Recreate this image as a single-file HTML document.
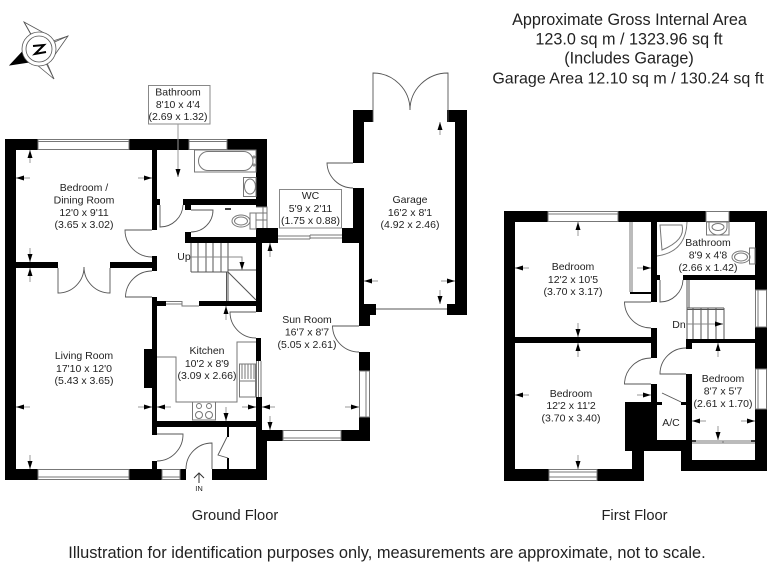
<!DOCTYPE html>
<html><head><meta charset="utf-8"><style>
html,body{margin:0;padding:0;background:#fff}
svg{display:block}
text{font-family:"Liberation Sans",sans-serif;fill:#222;text-anchor:middle}
.r text{font-size:10.5px}
.l{fill:none;stroke:#777;stroke-width:1}
.d{fill:none;stroke:#555;stroke-width:.9}
.a{stroke:#999;stroke-width:1;fill:none;marker-end:url(#m)}
</style></head><body>
<svg width="768" height="576" viewBox="0 0 768 576" xmlns="http://www.w3.org/2000/svg">
<defs><marker id="m" markerUnits="userSpaceOnUse" markerWidth="9" markerHeight="6" refX="8" refY="2.5" orient="auto"><path d="M0 0L8 2.5L0 5z" fill="#000"/></marker></defs>
<rect width="768" height="576" fill="#fff"/>

<!-- compass -->
<g fill="#fff" stroke="#555" stroke-width=".8">
<path d="M24 22L46 34L32 36zM68 36L54 56L53 41zM54 79L31 60L47 63z"/>
<path d="M24 22L39 49M68 36L39 49M54 79L39 49"/>
<path d="M10 65L24 50L39 49L30 62z" fill="#000" stroke="#000"/>
<circle cx="39" cy="49" r="17"/><circle cx="39" cy="49" r="13"/>
<path d="M33 46L44 45L35 54L46 52" fill="none" stroke="#000" stroke-width="2"/>
</g>

<!-- ground floor walls -->
<g fill="#000">
<rect x="5" y="139" width="11" height="341"/>
<rect x="5" y="139" width="33" height="11"/>
<rect x="129" y="139" width="60" height="11"/>
<rect x="227" y="139" width="40" height="11"/>
<rect x="256" y="139" width="11" height="68"/>
<rect x="152" y="150" width="5" height="80"/>
<rect x="157" y="199" width="3" height="6"/>
<rect x="152" y="256" width="5" height="15"/>
<rect x="16" y="262" width="42" height="6"/>
<rect x="110" y="262" width="42" height="6"/>
<rect x="183" y="199" width="74" height="6"/>
<rect x="185" y="205" width="6" height="5"/>
<rect x="185" y="232" width="6" height="10"/>
<rect x="185" y="237" width="77" height="6"/>
<rect x="256" y="228" width="22" height="15"/>
<rect x="256" y="243" width="6" height="69"/>
<rect x="152" y="297" width="5" height="138"/>
<rect x="157" y="301" width="9" height="5"/>
<rect x="199" y="301" width="57" height="5"/>
<rect x="144" y="349" width="8" height="39"/>
<rect x="256" y="338" width="5" height="23"/>
<rect x="256" y="397" width="6" height="44"/>
<rect x="157" y="421" width="99" height="6"/>
<rect x="256" y="430" width="27" height="11"/>
<rect x="256" y="430" width="11" height="50"/>
<rect x="341" y="430" width="29" height="11"/>
<rect x="359" y="417" width="11" height="24"/>
<rect x="359" y="352" width="11" height="19"/>
<rect x="359" y="304" width="11" height="22"/>
<rect x="359" y="304" width="17" height="11"/>
<rect x="359" y="243" width="5" height="62"/>
<rect x="342" y="228" width="22" height="15"/>
<rect x="353" y="188" width="11" height="45"/>
<rect x="353" y="110" width="11" height="53"/>
<rect x="353" y="110" width="20" height="12"/>
<rect x="455" y="110" width="12" height="205"/>
<rect x="447" y="110" width="20" height="12"/>
<rect x="447" y="304" width="20" height="11"/>
<rect x="5" y="469" width="33" height="11"/>
<rect x="129" y="469" width="33" height="11"/>
<rect x="180" y="469" width="6" height="11"/>
<rect x="212" y="469" width="55" height="11"/>
<rect x="152" y="461" width="5" height="9"/>
<rect x="227" y="427" width="2" height="10"/>
<rect x="227" y="458" width="2" height="11"/>
</g>

<!-- ground floor windows -->
<g class="l">
<rect x="38" y="139.500" width="91" height="10"/>
<path d="M38 141.500H129"/>
<rect x="189" y="139.500" width="38" height="10"/>
<path d="M189 141.500H227"/>
<rect x="38" y="469.500" width="91" height="10"/>
<path d="M38 477H129"/>
<rect x="162" y="469.500" width="18" height="10"/>
<path d="M162 477H180"/>
<rect x="283" y="430.500" width="58" height="10"/>
<path d="M283 438H341"/>
<rect x="359.500" y="371" width="10" height="46"/>
<path d="M366 371V417"/>
<path d="M256.500 361V397M261 361V397M258.500 361V397"/>
<path d="M166 301.500H182V306H199M182 304H166"/>
<path d="M278 236H310M278 239H310M310 235H342M310 238H342M310 235V239"/>
<path d="M256 207H267V228M256 213H267M263 207V228M256 220H267"/>
</g>

<!-- fixtures: ground -->
<g class="l" stroke-width=".9">
<rect x="194.500" y="150" width="61.500" height="22"/>
<rect x="198.500" y="151.500" width="54.500" height="19" rx="9.500"/>
<circle cx="254" cy="157" r="1"/><circle cx="254" cy="165" r="1"/>
<rect x="243.500" y="177.500" width="12.500" height="19"/>
<ellipse cx="250" cy="186.500" rx="5.500" ry="7.500"/>
<ellipse cx="241" cy="221" rx="9" ry="6"/><ellipse cx="241" cy="221" rx="6.500" ry="4"/>
<rect x="250" y="213" width="6" height="16"/>
<path d="M157 357H176V402H237V342H256"/>
<rect x="192.500" y="402" width="23" height="18"/>
<circle cx="199" cy="406" r="2.500"/><circle cx="209" cy="406" r="2.500"/>
<circle cx="199" cy="415" r="3.500"/><circle cx="209" cy="415" r="3.500"/>
<rect x="239.500" y="364" width="16" height="33"/>
<path d="M240 381H256M242 364V379M245 364V379M248 364V379M251 364V379M254 364V379"/>
</g>

<!-- stairs ground -->
<g stroke="#555" stroke-width="1" fill="none">
<path d="M191 243V272M198 243V272M206 243V272M213 243V272M221 243V272M228 243V272"/>
<path d="M191 272H228M226.500 272V301M228 272V301M228 272L256 300M228 270H256"/>
</g>
<path d="M191 257H242V270" stroke="#888" fill="none" marker-end="url(#m)"/>

<!-- doors ground -->
<g class="d">
<path d="M152 230H125A27 27 0 0 0 152 257"/>
<path d="M152 297H125.500A26.500 26.500 0 0 1 152 271"/>
<path d="M58 268V293A26 26 0 0 0 84 267"/>
<path d="M110 268V293A26 26 0 0 1 84 267"/>
<path d="M160 205V227A23 23 0 0 0 183 205"/>
<path d="M191 210H213A22 22 0 0 1 191 232"/>
<path d="M256 312H230A26 26 0 0 0 256 338"/>
<path d="M359 326H332.500A26.500 26.500 0 0 0 359 352"/>
<path d="M353 163H327A26 26 0 0 0 353 188"/>
<path d="M157 434H183A26.500 26.500 0 0 1 157 461"/>
<path d="M212 469V443A26 26 0 0 0 186 469"/>
<path d="M227 437L218 455L228 458"/>
<path d="M373 122V73A37 37 0 0 1 410 110"/>
<path d="M448 122V73A38 37 0 0 0 410 110"/>
<path d="M376 309H447"/>
</g>

<!-- arrows ground -->
<path class="a" d="M30 163V150"/><path class="a" d="M30 248V262"/><path class="a" d="M30 282V268"/>
<path class="a" d="M30 178H16"/><path class="a" d="M138 178H152"/>
<path class="a" d="M30 407H16"/><path class="a" d="M138 407H152"/><path class="a" d="M30 455V469"/>
<path class="a" d="M171 407H157"/><path class="a" d="M242 407H256"/><path class="a" d="M226 320V306"/><path class="a" d="M226 407V421"/>
<path class="a" d="M275 407H262"/><path class="a" d="M345 407H359"/><path class="a" d="M270 257V243"/><path class="a" d="M270 416V430"/>
<path class="a" d="M378 281H364"/><path class="a" d="M441 281H455"/><path class="a" d="M440 135V122"/><path class="a" d="M440 290V304"/>
<path d="M231 209H225" stroke="#000" stroke-width="1.500"/>
<path d="M199 483V473M194 478L199 473L204 478" fill="none" stroke="#333"/>

<!-- callouts -->
<rect x="148.500" y="85.500" width="61.500" height="38.500" fill="#fff" stroke="#888"/>
<path class="a" d="M178 124V177"/>
<rect x="279.500" y="189.500" width="62" height="38.500" fill="#fff" stroke="#888"/>

<!-- first floor walls -->
<g fill="#000">
<rect x="504" y="211" width="11" height="270"/>
<rect x="504" y="211" width="44" height="11"/>
<rect x="618" y="211" width="88" height="11"/>
<rect x="729" y="211" width="38" height="11"/>
<rect x="755" y="211" width="12" height="79"/>
<rect x="755" y="327" width="12" height="42"/>
<rect x="755" y="409" width="12" height="62"/>
<rect x="651" y="222" width="6" height="80"/>
<rect x="651" y="328" width="6" height="30"/>
<rect x="651" y="384" width="6" height="18"/>
<rect x="515" y="337" width="142" height="6"/>
<rect x="683" y="275" width="84" height="5"/>
<rect x="657" y="275" width="3" height="5"/>
<rect x="686" y="339" width="69" height="4"/>
<rect x="686" y="339" width="6" height="10"/>
<rect x="686" y="374" width="6" height="68"/>
<rect x="625" y="402" width="32" height="49"/>
<rect x="632" y="451" width="12" height="30"/>
<rect x="625" y="440" width="67" height="11"/>
<rect x="681" y="440" width="11" height="31"/>
<rect x="681" y="460" width="86" height="11"/>
<rect x="504" y="469" width="45" height="12"/>
<rect x="597" y="469" width="47" height="12"/>
<rect x="630" y="292" width="21" height="2"/>
<rect x="657" y="402" width="5" height="3"/>
<rect x="681" y="402" width="5" height="3"/>
<rect x="692" y="440" width="4" height="2"/>
<rect x="751" y="440" width="4" height="2"/>
</g>

<!-- first floor windows & fixtures -->
<g class="l" stroke-width=".9">
<rect x="548" y="211.500" width="70" height="10"/><path d="M548 214H618"/>
<rect x="706" y="211.500" width="23" height="10"/>
<rect x="549" y="469.500" width="48" height="11"/><path d="M549 477H597M549 472H597"/>
<rect x="755.500" y="290" width="11" height="37"/><path d="M758 290V327"/>
<rect x="755.500" y="369" width="11" height="40"/><path d="M758 369V409"/>
<path d="M630 222V292M632 222V292"/>
<rect x="706.500" y="222" width="22.500" height="13"/>
<path d="M709 222V227A9 8 0 0 0 727 227V222"/>
<ellipse cx="718" cy="227" rx="6" ry="3.500"/>
<ellipse cx="741" cy="257" rx="9" ry="6"/><ellipse cx="741" cy="257" rx="6.500" ry="4"/>
<rect x="749.500" y="248" width="5.500" height="16"/>
<path d="M660 225H682Q686 240 662 250Z"/>
<path d="M657 256Q686 252 687 222"/>
<path d="M692 441H755M692 443H755M723 441V443"/>
</g>

<!-- stairs first -->
<g stroke="#555" stroke-width="1" fill="none">
<path d="M687 280V339M689 280V308M687 308H724M687 309.500H724"/>
<path d="M693 308V339M701 308V339M708 308V339M716 308V339M724 308V339"/>
</g>
<path d="M686 324H723" stroke="#888" fill="none" marker-end="url(#m)"/>

<!-- doors first -->
<g class="d">
<path d="M660 280V302A23 23 0 0 0 683 280"/>
<path d="M651 302H624.500A26.500 26.500 0 0 0 651 328"/>
<path d="M651 384H624.500A26.500 26.500 0 0 1 651 358"/>
<path d="M686 374H660A26 26 0 0 1 686 348"/>
<path d="M662 393L681 402"/>
</g>

<!-- arrows first -->
<path class="a" d="M578 236V222"/><path class="a" d="M578 323V337"/><path class="a" d="M529 268H515"/><path class="a" d="M637 268H651"/>
<path class="a" d="M578 357V343"/><path class="a" d="M529 395H515"/><path class="a" d="M637 395H651"/><path class="a" d="M578 455V469"/>
<path class="a" d="M718 357V343"/><path class="a" d="M706 421H692"/><path class="a" d="M741 421H755"/><path class="a" d="M718 426V440"/>

<!-- labels -->
<g class="r">
<text x="84" y="191">Bedroom /</text><text x="84" y="203.500">Dining Room</text><text x="84" y="216">12'0 x 9'11</text><text x="84" y="228">(3.65 x 3.02)</text>
<text x="84" y="359">Living Room</text><text x="84" y="372">17'10 x 12'0</text><text x="84" y="384">(5.43 x 3.65)</text>
<text x="207" y="354">Kitchen</text><text x="207" y="367">10'2 x 8'9</text><text x="207" y="379">(3.09 x 2.66)</text>
<text x="307" y="323">Sun Room</text><text x="307" y="335.500">16'7 x 8'7</text><text x="307" y="348">(5.05 x 2.61)</text>
<text x="410" y="203">Garage</text><text x="410" y="216">16'2 x 8'1</text><text x="410" y="228">(4.92 x 2.46)</text>
<text x="310.500" y="199">WC</text><text x="310.500" y="212">5'9 x 2'11</text><text x="310.500" y="224">(1.75 x 0.88)</text>
<text x="178" y="95.500">Bathroom</text><text x="178" y="108">8'10 x 4'4</text><text x="178" y="120">(2.69 x 1.32)</text>
<text x="573" y="270">Bedroom</text><text x="573" y="283">12'2 x 10'5</text><text x="573" y="295">(3.70 x 3.17)</text>
<text x="571" y="397">Bedroom</text><text x="571" y="409">12'2 x 11'2</text><text x="571" y="421.500">(3.70 x 3.40)</text>
<text x="723" y="382">Bedroom</text><text x="723" y="394.500">8'7 x 5'7</text><text x="723" y="407">(2.61 x 1.70)</text>
<text x="708" y="246">Bathroom</text><text x="708" y="258.500">8'9 x 4'8</text><text x="708" y="271">(2.66 x 1.42)</text>
<text x="671" y="426">A/C</text>
<text x="184" y="260">Up</text>
<text x="679" y="328">Dn</text>
</g>
<text x="199" y="491" font-size="7.500">IN</text>
<text x="235" y="520" font-size="14.700px">Ground Floor</text>
<text x="634.500" y="520" font-size="14.700px">First Floor</text>
<text x="629.500" y="25" font-size="16.200px">Approximate Gross Internal Area</text>
<text x="629" y="44.500" font-size="16.200px">123.0 sq m / 1323.96 sq ft</text>
<text x="629" y="63.500" font-size="16.200px">(Includes Garage)</text>
<text x="628" y="83.500" font-size="16px">Garage Area 12.10 sq m / 130.24 sq ft</text>
<text x="387" y="558" font-size="16.400px">Illustration for identification purposes only, measurements are approximate, not to scale.</text>
</svg>
</body></html>
